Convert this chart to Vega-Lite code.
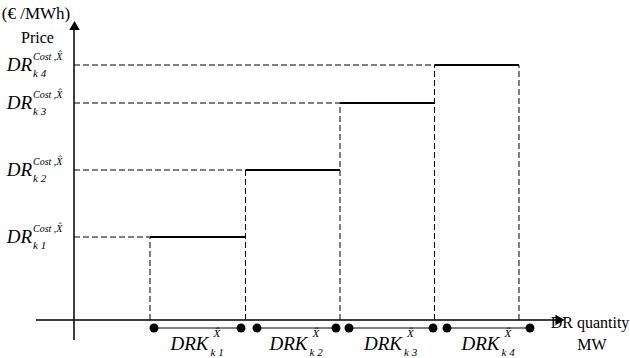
{
  "$schema": "https://vega.github.io/schema/vega-lite/v6.json",
  "width": 630,
  "height": 358,
  "padding": 0,
  "autosize": {"type": "none"},
  "background": "white",
  "config": {"view": {"stroke": null}, "text": {"font": "'Liberation Serif', 'Times New Roman', Times, 'DejaVu Serif', serif", "color": "black"}},
  "datasets": {
    "levels": [
      {"k": "k1", "origin": 0, "from": 76, "to": 171.5, "price": 83, "dr": "DR", "sup": "Cost ,X\u0302", "sub": "k 1"},
      {"k": "k2", "origin": 0, "from": 171.5, "to": 266, "price": 150, "dr": "DR", "sup": "Cost ,X\u0302", "sub": "k 2"},
      {"k": "k3", "origin": 0, "from": 266, "to": 360.5, "price": 217, "dr": "DR", "sup": "Cost ,X\u0302", "sub": "k 3"},
      {"k": "k4", "origin": 0, "from": 360.5, "to": 445, "price": 255, "dr": "DR", "sup": "Cost ,X\u0302", "sub": "k 4"}
    ],
    "blocks": [
      {"k": "k1", "left": 80, "right": 167, "mid": 123.5, "lab": "DRK", "sup": "X\u0302", "sub": "k 1"},
      {"k": "k2", "left": 183, "right": 262, "mid": 222.5, "lab": "DRK", "sup": "X\u0302", "sub": "k 2"},
      {"k": "k3", "left": 275, "right": 359, "mid": 317, "lab": "DRK", "sup": "X\u0302", "sub": "k 3"},
      {"k": "k4", "left": 373, "right": 456, "mid": 414.5, "lab": "DRK", "sup": "X\u0302", "sub": "k 4"}
    ],
    "axes": [
      {"name": "quantity", "x": -38, "x2": 486, "y": 0, "y2": 0},
      {"name": "price", "x": 0, "x2": 0, "y": -20, "y2": 294}
    ],
    "arrows": [
      {"name": "quantity", "x": 486, "y": 0},
      {"name": "price", "x": 0.5, "y": 294.5}
    ],
    "titles": [
      {"t": "(\u20ac /MWh)", "x": -38, "y": 301, "s": "a"},
      {"t": "Price", "x": -36.5, "y": 277, "s": "b"},
      {"t": "DR quantity", "x": 516, "y": -8, "s": "b"},
      {"t": "MW", "x": 518, "y": -30, "s": "b"}
    ]
  },
  "layer": [
    {
      "data": {"name": "axes"},
      "mark": {"type": "rule", "color": "black", "strokeWidth": 1.5},
      "encoding": {
        "x": {"field": "x", "type": "quantitative", "axis": null, "scale": {"domain": [-74, 556], "nice": false, "zero": false}},
        "x2": {"field": "x2"},
        "y": {"field": "y", "type": "quantitative", "axis": null, "scale": {"domain": [-38, 320], "nice": false, "zero": false}},
        "y2": {"field": "y2"}
      }
    },
    {
      "data": {"name": "arrows"},
      "transform": [{"filter": "datum.name === 'quantity'"}],
      "mark": {"type": "point", "filled": true, "color": "black", "size": 110, "opacity": 1, "shape": "triangle-right"},
      "encoding": {
        "x": {"field": "x", "type": "quantitative"},
        "y": {"field": "y", "type": "quantitative"}
      }
    },
    {
      "data": {"name": "arrows"},
      "transform": [{"filter": "datum.name === 'price'"}],
      "mark": {"type": "point", "filled": true, "color": "black", "size": 110, "opacity": 1, "shape": "triangle-up"},
      "encoding": {
        "x": {"field": "x", "type": "quantitative"},
        "y": {"field": "y", "type": "quantitative"}
      }
    },
    {
      "data": {"name": "levels"},
      "mark": {"type": "rule", "color": "black", "strokeWidth": 1, "strokeDash": [6, 3]},
      "encoding": {
        "x": {"field": "origin", "type": "quantitative"},
        "x2": {"field": "from"},
        "y": {"field": "price", "type": "quantitative"}
      }
    },
    {
      "data": {"name": "levels"},
      "mark": {"type": "rule", "color": "black", "strokeWidth": 1, "strokeDash": [6, 3]},
      "encoding": {
        "x": {"field": "from", "type": "quantitative"},
        "y": {"field": "origin", "type": "quantitative"},
        "y2": {"field": "price"}
      }
    },
    {
      "data": {"name": "levels"},
      "transform": [{"filter": "datum.k === 'k4'"}],
      "mark": {"type": "rule", "color": "black", "strokeWidth": 1, "strokeDash": [6, 3]},
      "encoding": {
        "x": {"field": "to", "type": "quantitative"},
        "y": {"field": "origin", "type": "quantitative"},
        "y2": {"field": "price"}
      }
    },
    {
      "data": {"name": "levels"},
      "mark": {"type": "rule", "color": "black", "strokeWidth": 2.2},
      "encoding": {
        "x": {"field": "from", "type": "quantitative"},
        "x2": {"field": "to"},
        "y": {"field": "price", "type": "quantitative"}
      }
    },
    {
      "data": {"name": "blocks"},
      "mark": {"type": "rule", "color": "black", "strokeWidth": 1},
      "encoding": {
        "x": {"field": "left", "type": "quantitative"},
        "x2": {"field": "right"},
        "y": {"datum": -8, "type": "quantitative"}
      }
    },
    {
      "data": {"name": "blocks"},
      "mark": {"type": "circle", "color": "black", "size": 80, "opacity": 1},
      "encoding": {
        "x": {"field": "left", "type": "quantitative"},
        "y": {"datum": -8, "type": "quantitative"}
      }
    },
    {
      "data": {"name": "blocks"},
      "mark": {"type": "circle", "color": "black", "size": 80, "opacity": 1},
      "encoding": {
        "x": {"field": "right", "type": "quantitative"},
        "y": {"datum": -8, "type": "quantitative"}
      }
    },
    {
      "data": {"name": "blocks"},
      "mark": {"type": "text", "fontSize": 19, "fontStyle": "italic", "align": "right", "baseline": "alphabetic", "dx": 11},
      "encoding": {
        "x": {"field": "mid", "type": "quantitative"},
        "y": {"datum": -30, "type": "quantitative"},
        "text": {"field": "lab"}
      }
    },
    {
      "data": {"name": "blocks"},
      "mark": {"type": "text", "fontSize": 11, "fontStyle": "italic", "align": "left", "baseline": "alphabetic", "dx": 16},
      "encoding": {
        "x": {"field": "mid", "type": "quantitative"},
        "y": {"datum": -17, "type": "quantitative"},
        "text": {"field": "sup"}
      }
    },
    {
      "data": {"name": "blocks"},
      "mark": {"type": "text", "fontSize": 11, "fontStyle": "italic", "align": "left", "baseline": "alphabetic", "dx": 13},
      "encoding": {
        "x": {"field": "mid", "type": "quantitative"},
        "y": {"datum": -36, "type": "quantitative"},
        "text": {"field": "sub"}
      }
    },
    {
      "data": {"name": "levels"},
      "mark": {"type": "text", "fontSize": 19, "fontStyle": "italic", "align": "right", "baseline": "alphabetic", "dy": 6},
      "encoding": {
        "x": {"datum": -42, "type": "quantitative"},
        "y": {"field": "price", "type": "quantitative"},
        "text": {"field": "dr"}
      }
    },
    {
      "data": {"name": "levels"},
      "mark": {"type": "text", "fontSize": 10, "fontStyle": "italic", "align": "left", "baseline": "alphabetic", "dy": -5},
      "encoding": {
        "x": {"datum": -41, "type": "quantitative"},
        "y": {"field": "price", "type": "quantitative"},
        "text": {"field": "sup"}
      }
    },
    {
      "data": {"name": "levels"},
      "mark": {"type": "text", "fontSize": 11, "fontStyle": "italic", "align": "left", "baseline": "alphabetic", "dy": 12},
      "encoding": {
        "x": {"datum": -41, "type": "quantitative"},
        "y": {"field": "price", "type": "quantitative"},
        "text": {"field": "sub"}
      }
    },
    {
      "data": {"name": "titles"},
      "transform": [{"filter": "datum.s === 'a'"}],
      "mark": {"type": "text", "fontSize": 17, "align": "center", "baseline": "alphabetic"},
      "encoding": {
        "x": {"field": "x", "type": "quantitative"},
        "y": {"field": "y", "type": "quantitative"},
        "text": {"field": "t"}
      }
    },
    {
      "data": {"name": "titles"},
      "transform": [{"filter": "datum.s === 'b'"}],
      "mark": {"type": "text", "fontSize": 16, "align": "center", "baseline": "alphabetic"},
      "encoding": {
        "x": {"field": "x", "type": "quantitative"},
        "y": {"field": "y", "type": "quantitative"},
        "text": {"field": "t"}
      }
    }
  ]
}
